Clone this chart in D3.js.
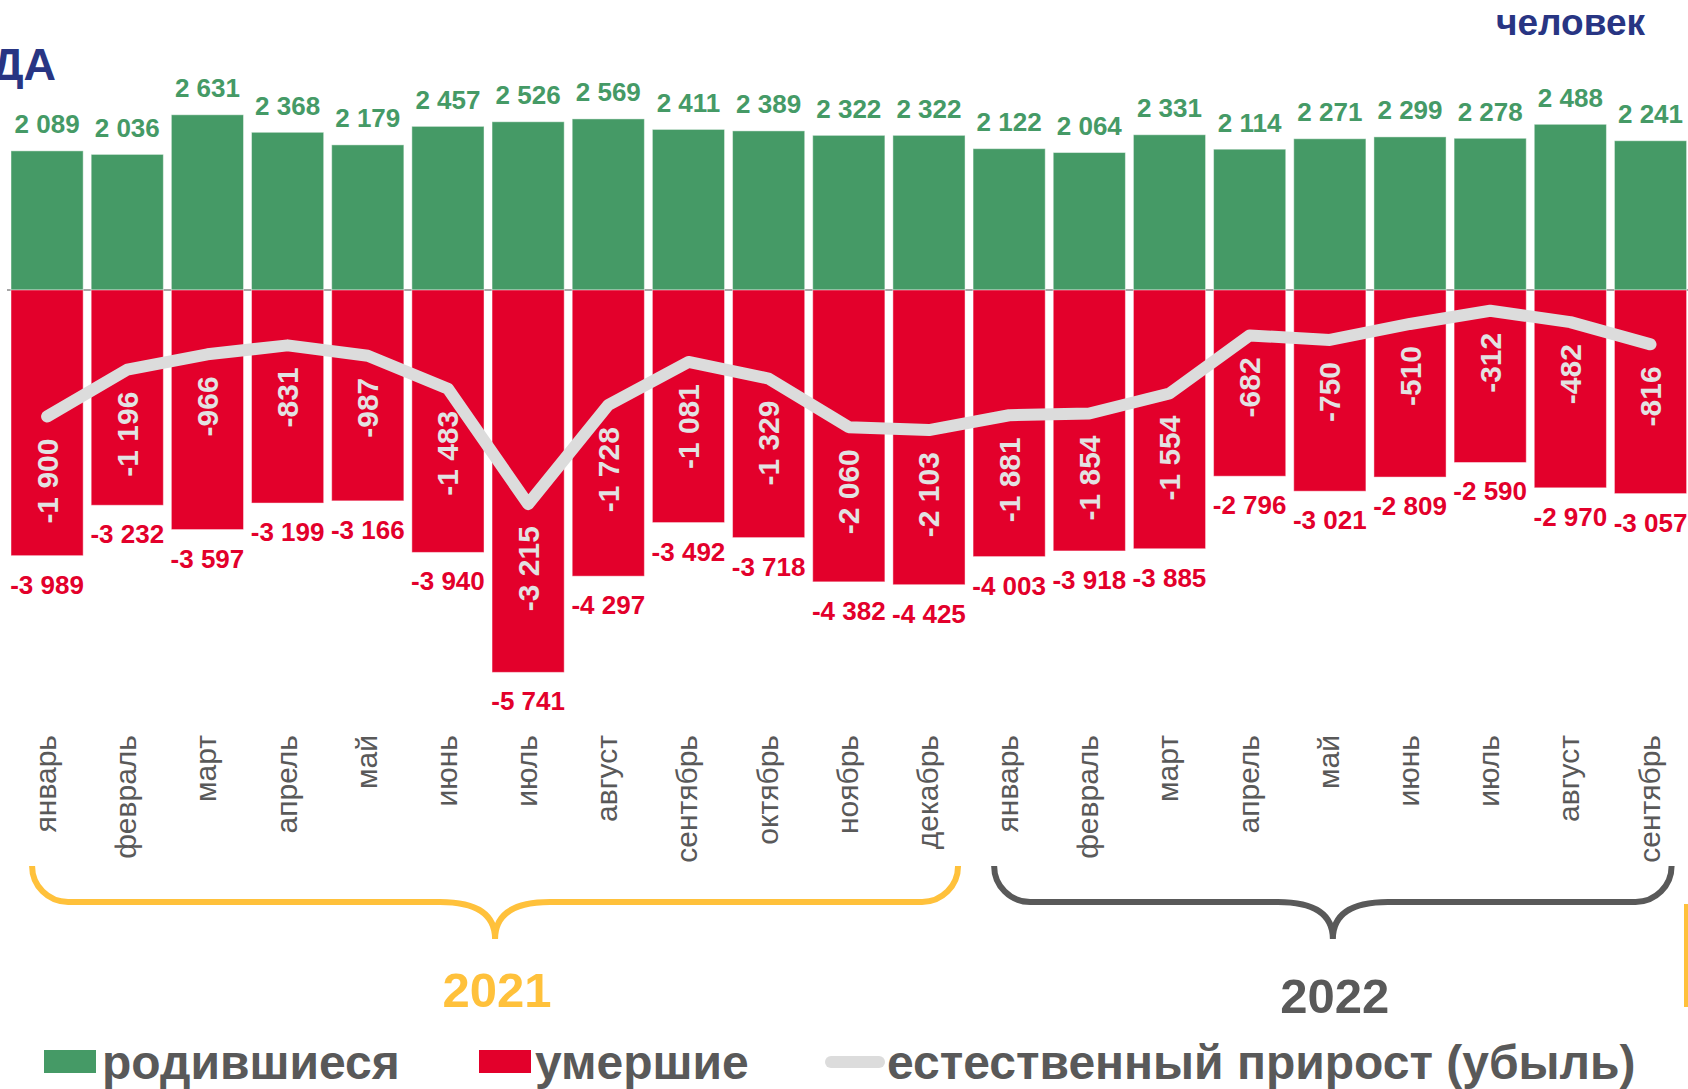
<!DOCTYPE html>
<html>
<head>
<meta charset="utf-8">
<script src="https://cdn.jsdelivr.net/npm/d3@7"></script>
<style>
  html, body { margin: 0; padding: 0; background: #fff; }
  svg { display: block; font-family: "Liberation Sans", Arial, sans-serif; }
</style>
</head>
<body>
<svg id="chart" width="1688" height="1089"></svg>
<script>
// --- Data ---
const months = ["январь", "февраль", "март", "апрель", "май", "июнь", "июль", "август",
  "сентябрь", "октябрь", "ноябрь", "декабрь",
  "январь", "февраль", "март", "апрель", "май", "июнь", "июль", "август", "сентябрь"];
const births = [2089, 2036, 2631, 2368, 2179, 2457, 2526, 2569, 2411, 2389, 2322, 2322,
  2122, 2064, 2331, 2114, 2271, 2299, 2278, 2488, 2241];
const deaths = [-3989, -3232, -3597, -3199, -3166, -3940, -5741, -4297, -3492, -3718, -4382, -4425,
  -4003, -3918, -3885, -2796, -3021, -2809, -2590, -2970, -3057];
const natural = [-1900, -1196, -966, -831, -987, -1483, -3215, -1728, -1081, -1329, -2060, -2103,
  -1881, -1854, -1554, -682, -750, -510, -312, -482, -816];
const years = [
  { label: "2021", from: 0, to: 11 },
  { label: "2022", from: 12, to: 20 }
];
const legendItems = ["родившиеся", "умершие", "естественный прирост (убыль)"];

// --- Colors ---
const GREEN = "#459a66";
const RED = "#e3002b";
const LINE = "#dcdcdc";
const GRAY = "#595959";
const GOLD = "#ffc13b";
const NAVY = "#283583";

const ru = d3.formatLocale({ decimal: ",", thousands: " ", grouping: [3], currency: ["", ""], minus: "-" });
const fmt = ru.format(",d");

const svg = d3.select("#chart");
const idx = d3.range(months.length);

// --- Scales ---
const x = d3.scaleBand().domain(idx).range([7, 1690.6]).paddingInner(0.1).paddingOuter(0.05);
const y = d3.scaleLinear().domain([-6000, 3000]).range([689.6, 90.2]);
const cx = i => x(i) + x.bandwidth() / 2;

// --- Titles ---
svg.append("text")
  .attr("x", 56).attr("y", 80)
  .attr("text-anchor", "end")
  .attr("font-size", 45).attr("font-weight", "bold")
  .attr("fill", NAVY)
  .text("ГОДА");

svg.append("text")
  .attr("x", 1645).attr("y", 35)
  .attr("text-anchor", "end")
  .attr("font-size", 37).attr("font-weight", "bold")
  .attr("fill", NAVY)
  .text("человек");

// --- Zero line ---
svg.append("line")
  .attr("x1", 7).attr("x2", 1688)
  .attr("y1", y(0)).attr("y2", y(0))
  .attr("stroke", "#a6a6a6").attr("stroke-width", 2);

// --- Bars ---
svg.append("g").selectAll("rect").data(idx).join("rect")
  .attr("x", i => x(i)).attr("width", x.bandwidth())
  .attr("y", i => y(births[i])).attr("height", i => y(0) - y(births[i]))
  .attr("fill", GREEN)
  .attr("stroke", "rgba(255,255,255,0.45)").attr("stroke-width", 1);

svg.append("g").selectAll("rect").data(idx).join("rect")
  .attr("x", i => x(i)).attr("width", x.bandwidth())
  .attr("y", y(0)).attr("height", i => y(deaths[i]) - y(0))
  .attr("fill", RED)
  .attr("stroke", "rgba(255,255,255,0.45)").attr("stroke-width", 1);

// --- Bar value labels ---
svg.append("g").selectAll("text").data(idx).join("text")
  .attr("x", cx).attr("y", i => y(births[i]) - 17.5)
  .attr("text-anchor", "middle")
  .attr("font-size", 26).attr("font-weight", "bold")
  .attr("fill", GREEN)
  .text(i => fmt(births[i]));

svg.append("g").selectAll("text").data(idx).join("text")
  .attr("x", cx).attr("y", i => y(deaths[i]) + 38)
  .attr("text-anchor", "middle")
  .attr("font-size", 26).attr("font-weight", "bold")
  .attr("fill", RED)
  .text(i => fmt(deaths[i]));

// --- Natural increase line ---
const line = d3.line().x(i => cx(i)).y(i => y(natural[i]));
svg.append("path")
  .datum(idx)
  .attr("d", line)
  .attr("fill", "none")
  .attr("stroke", LINE)
  .attr("stroke-width", 12)
  .attr("stroke-linejoin", "round")
  .attr("stroke-linecap", "round");

svg.append("g").selectAll("text").data(idx).join("text")
  .attr("transform", i => `translate(${cx(i)},${y(natural[i]) + 22}) rotate(-90)`)
  .attr("dy", "0.35em")
  .attr("text-anchor", "end")
  .attr("font-size", 30).attr("font-weight", "bold")
  .attr("fill", "#e2e2e2")
  .text(i => fmt(natural[i]));

// --- Month labels ---
svg.append("g").selectAll("text").data(idx).join("text")
  .attr("transform", i => `translate(${cx(i)},735) rotate(-90)`)
  .attr("dy", "0.3em")
  .attr("text-anchor", "end")
  .attr("font-size", 30)
  .attr("fill", GRAY)
  .text(i => months[i]);

// --- Year braces ---
function bracePath(x0, x1) {
  const top = 866, mid = 902, tip = 939, r = 36;
  const c = (x0 + x1) / 2;
  return `M${x0},${top} A${r},${r} 0 0 0 ${x0 + r},${mid} L${c - 55},${mid} ` +
    `Q${c},${mid} ${c},${tip} Q${c},${mid} ${c + 55},${mid} ` +
    `L${x1 - r},${mid} A${r},${r} 0 0 0 ${x1},${top}`;
}
const yearColors = [GOLD, GRAY];
const braceRight = [-7, -15]; // offset from the last bar's right edge
years.forEach((yr, k) => {
  const x0 = cx(yr.from) - 15;
  const x1 = x(yr.to) + x.bandwidth() + braceRight[k];
  svg.append("path")
    .attr("d", bracePath(x0, x1))
    .attr("fill", "none")
    .attr("stroke", yearColors[k])
    .attr("stroke-width", 6);
  svg.append("text")
    .attr("x", (x0 + x1) / 2 + 2).attr("y", 1007 + k * 6)
    .attr("text-anchor", "middle")
    .attr("font-size", 49).attr("font-weight", "bold")
    .attr("fill", yearColors[k])
    .text(yr.label);
});

// right edge accent
svg.append("rect")
  .attr("x", 1684).attr("y", 904).attr("width", 4).attr("height", 103)
  .attr("fill", GOLD);

// --- Legend ---
const lg = svg.append("g");
lg.append("rect").attr("x", 44).attr("y", 1050).attr("width", 52).attr("height", 23).attr("fill", GREEN);
lg.append("text").attr("x", 102).attr("y", 1079).text(legendItems[0]);
lg.append("rect").attr("x", 479).attr("y", 1050).attr("width", 52).attr("height", 23).attr("fill", RED);
lg.append("text").attr("x", 535).attr("y", 1079).text(legendItems[1]);
lg.append("line").attr("x1", 831).attr("x2", 879).attr("y1", 1062).attr("y2", 1062)
  .attr("stroke", LINE).attr("stroke-width", 12).attr("stroke-linecap", "round");
lg.append("text").attr("x", 887).attr("y", 1079).text(legendItems[2]);
lg.selectAll("text")
  .attr("font-size", 48).attr("font-weight", "bold")
  .attr("fill", GRAY);
</script>
</body>
</html>
